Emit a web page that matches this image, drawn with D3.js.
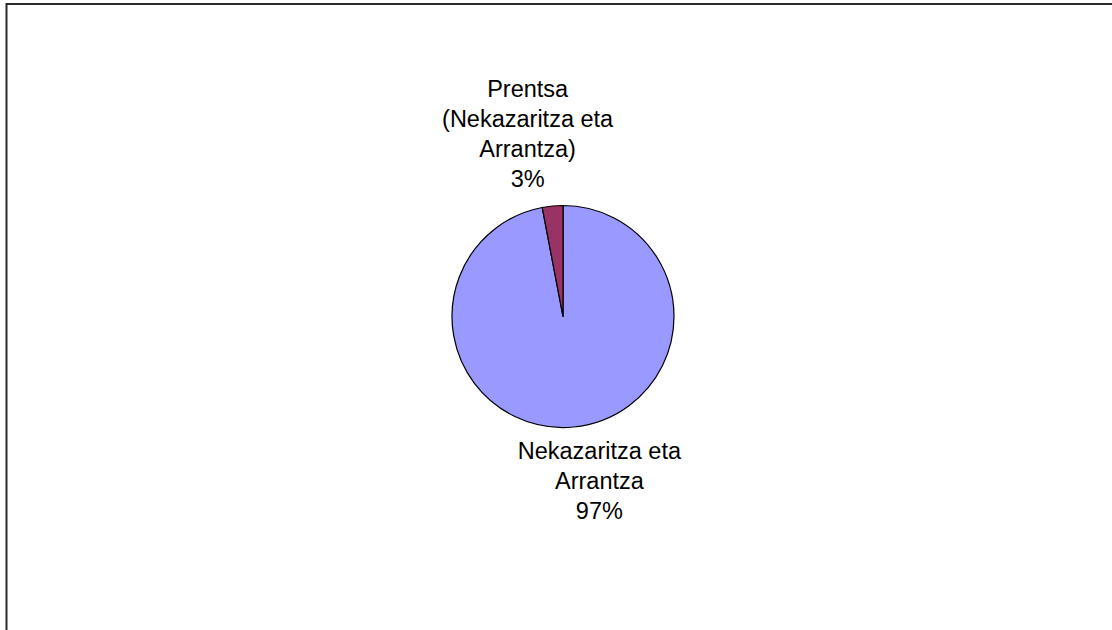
<!DOCTYPE html>
<html>
<head>
<meta charset="utf-8">
<script src="https://cdn.jsdelivr.net/npm/d3@7"></script>
<style>
  html, body { margin: 0; padding: 0; background: #fff; overflow: hidden; }
  svg { display: block; }
</style>
</head>
<body>
<svg id="chart" width="1112" height="630"></svg>
<script>
// data
const categories = ["Nekazaritza eta Arrantza", "Prentsa (Nekazaritza eta Arrantza)"]
const values = [97, 3]
const labelLines = [
    ["Nekazaritza eta", "Arrantza", "97%"],
    ["Prentsa", "(Nekazaritza eta", "Arrantza)", "3%"]
]
const colors = ["#9999FF", "#993366"]

const width = 1112, height = 630
const cx = 563, cy = 316.5, radius = 111
const lineHeight = 30
// label nudges, like Excel places them (per slice)
const labelNudge = [{ dx: 25, dy: 22, align: "top" }, { dx: -24, dy: -9, align: "bottom" }]

const svg = d3.select("#chart")

// chart area frame (runs off right and bottom edges)
svg.append("rect")
    .attr("x", 6.5)
    .attr("y", 4)
    .attr("width", width + 20)
    .attr("height", height + 20)
    .attr("fill", "none")
    .attr("stroke", "#2a2a2a")
    .attr("stroke-width", 2)

const data = categories.map((c, i) => ({ name: c, value: values[i], lines: labelLines[i] }))

const pie = d3.pie()
    .value(d => d.value)
    .sort(null)

const arc = d3.arc()
    .innerRadius(0)
    .outerRadius(radius)

const labelArc = d3.arc()
    .innerRadius(radius + 10)
    .outerRadius(radius + 10)

const g = svg.append("g")
    .attr("transform", `translate(${cx},${cy})`)

const arcs = pie(data)

g.selectAll(".slice")
    .data(arcs)
    .join("path")
    .attr("class", "slice")
    .attr("d", arc)
    .attr("fill", (d, i) => colors[i])
    .attr("stroke", "#000")
    .attr("stroke-width", 1.2)
    .attr("stroke-linejoin", "round")

g.selectAll(".label")
    .data(arcs)
    .join("text")
    .attr("class", "label")
    .attr("text-anchor", "middle")
    .style("font-family", "'Liberation Sans', Arial, sans-serif")
    .style("font-size", "23.5px")
    .attr("fill", "#000")
    .each(function (d, i) {
        const [x, y] = labelArc.centroid(d)
        const nudge = labelNudge[i]
        const n = d.data.lines.length
        const x0 = x + nudge.dx
        const yFirst = nudge.align === "top" ? y + nudge.dy : y + nudge.dy - (n - 1) * lineHeight
        d3.select(this).selectAll("tspan")
            .data(d.data.lines)
            .join("tspan")
            .attr("x", x0)
            .attr("y", (t, k) => yFirst + k * lineHeight)
            .text(t => t)
    })
</script>
</body>
</html>
